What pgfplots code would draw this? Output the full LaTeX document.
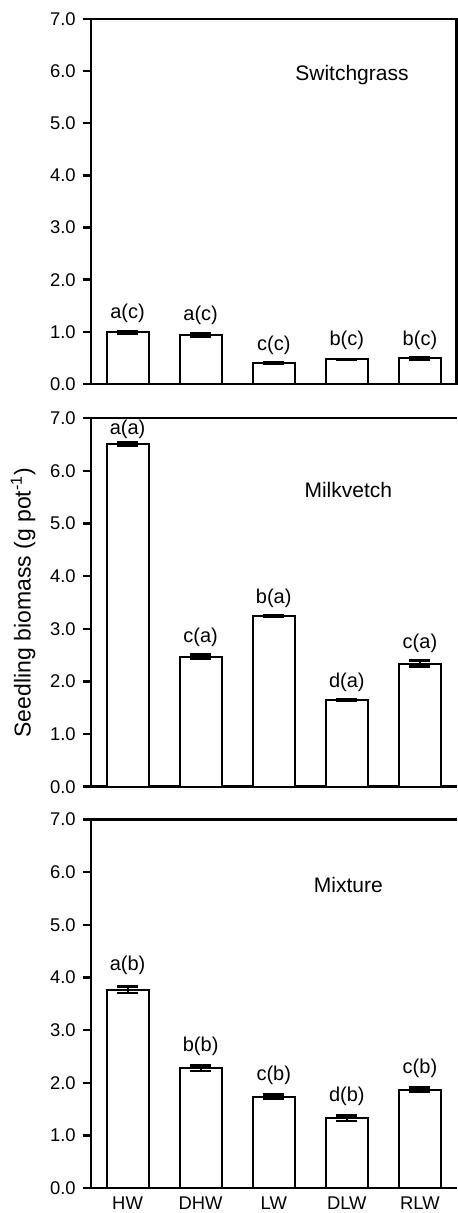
\documentclass[border=0pt]{standalone}
\usepackage{fontspec}
\setmainfont{Liberation Sans}
\usepackage{pgfplots}
\usepackage{pgfplotstable}
\pgfplotsset{compat=1.18}

\pgfplotstableread{
x y e ly lab
0 0.99 0.02 1.356 a(c)
1 0.94 0.03 1.323 a(c)
2 0.40 0.01 0.748 c(c)
3 0.47 0.01 0.830 b(c)
4 0.49 0.02 0.844 b(c)
}\sw
\pgfplotstableread{
x y e ly lab
0 6.51 0.03 6.795 a(a)
1 2.47 0.04 2.833 c(a)
2 3.24 0.01 3.582 b(a)
3 1.65 0.01 1.977 d(a)
4 2.34 0.06 2.726 c(a)
}\mv
\pgfplotstableread{
x y e ly lab
0 3.77 0.06 4.224 a(b)
1 2.28 0.05 2.700 b(b)
2 1.74 0.04 2.150 c(b)
3 1.33 0.05 1.738 d(b)
4 1.87 0.04 2.277 c(b)
}\mx

\pgfplotsset{
  panel/.style={
    scale only axis, width=182.75pt,
    xmin=-0.5, xmax=4.5, ymin=0, ymax=7,
    ytick={0,1,...,7},
    yticklabel style={/pgf/number format/.cd, fixed, fixed zerofill, precision=1},
    /pgf/number format/assume math mode=true,
    tick align=outside, major tick length=4.15pt, ytick pos=left,
    ytick style={line width=1.2pt, black},
    axis line style={line width=1.2pt, black},
    every tick label/.append style={font=\fontsize{9.2}{11}\selectfont},
    clip=false,
  },
  barplot/.style={ybar, bar width=0.575, fill=white, draw=black, line width=1pt,
    error bars/.cd, y dir=both, y explicit,
    error bar style={line width=1pt, black},
    error mark options={rotate=90, mark size=5.25pt, line width=1.2pt, black}},
  lblplot/.style={draw=none, mark=none, nodes near coords, point meta=explicit symbolic,
    nodes near coords style={anchor=center, inner sep=0pt, font=\fontsize{10}{12}\selectfont}},
}

\begin{document}
\begin{tikzpicture}
\useasboundingbox (0,0) rectangle (228.5pt,606.5pt);

% Switchgrass
\begin{axis}[panel, at={(45.5pt,414.5pt)}, anchor=south west, height=182.5pt, xtick=\empty]
\addplot[barplot] table[x=x, y=y, y error=e]{\sw};
\addplot[lblplot] table[x=x, y=ly, meta=lab]{\sw};
\node[font=\fontsize{10.5}{12}\selectfont] at (axis cs:3.07,5.93) {Switchgrass};
\end{axis}

% Milkvetch
\begin{axis}[panel, at={(45.5pt,213.15pt)}, anchor=south west, height=184.2pt, xtick=\empty,
  axis x line*=box, axis y line*=left,
  ylabel={Seedling biomass (g pot\textsuperscript{-1})},
  every axis y label/.style={at={(axis description cs:-0.186,0.5)}, rotate=90, anchor=center,
    font=\fontsize{11.5}{13}\selectfont}]
\addplot[barplot] table[x=x, y=y, y error=e]{\mv};
\addplot[lblplot] table[x=x, y=ly, meta=lab]{\mv};
\node[font=\fontsize{10.5}{12}\selectfont] at (axis cs:3.02,5.64) {Milkvetch};
\end{axis}

% Mixture
\begin{axis}[panel, at={(45.5pt,12.35pt)}, anchor=south west, height=184.5pt,
  axis x line*=box, axis y line*=left,
  xtick={0,1,2,3,4}, xticklabels={HW,DHW,LW,DLW,RLW}, xtick style={draw=none},
  xticklabel style={yshift=3.5pt}]
\addplot[barplot] table[x=x, y=y, y error=e]{\mx};
\addplot[lblplot] table[x=x, y=ly, meta=lab]{\mx};
\node[font=\fontsize{10.5}{12}\selectfont] at (axis cs:3.02,5.76) {Mixture};
\end{axis}
\end{tikzpicture}
\end{document}
